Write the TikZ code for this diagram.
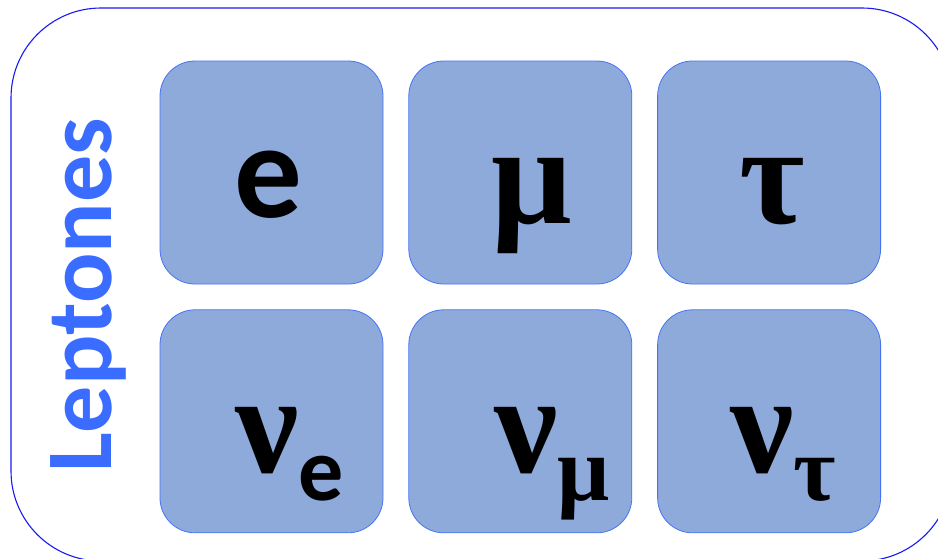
\documentclass[tikz,border=0pt]{standalone}
\usepackage{fontspec}
\setmainfont{Carlito}
\newfontfamily\symserif{Liberation Serif}
\usetikzlibrary{positioning}
\definecolor{frameblue}{RGB}{25,25,240}
\definecolor{cellfill}{RGB}{142,170,219}
\definecolor{celldraw}{RGB}{70,115,245}
\definecolor{titleblue}{RGB}{58,108,255}
\tikzstyle{cell}=[draw=celldraw, fill=cellfill, line width=0.8pt, rounded corners=35pt, minimum size=223pt, inner sep=0pt]
\tikzstyle{sym}=[inner sep=0pt, font=\symserif\bfseries\fontsize{142}{142}\selectfont]
\newcommand\latsub[1]{\raisebox{-28pt}{\normalfont\bfseries\fontsize{90}{90}\selectfont #1}}
\newcommand\grsub[1]{\raisebox{-28pt}{\fontsize{92}{92}\selectfont #1}}

\begin{document}
\begin{tikzpicture}[x=1pt, y=-1pt]
    \useasboundingbox (0,0) rectangle (938,558);
    \clip (0,0) rectangle (938,558);
    % outer frame
    \draw[frameblue, line width=1.1pt, rounded corners=90pt] (11,8) rectangle (952,561);
    \node[titleblue, rotate=90, anchor=base west, inner sep=0pt, font=\bfseries\fontsize{94}{94}\selectfont] (title) at (111,473) {Leptones};
    % cells
    \node[cell] (e) at (271.5,172.5) {};
    \node[cell, right=25pt of e] (mu) {};
    \node[cell, right=25pt of mu] (tau) {};
    \node[cell, below=25pt of e] (nue) {};
    \node[cell, below=25pt of mu] (numu) {};
    \node[cell, below=25pt of tau] (nutau) {};
    % symbols
    \node[inner sep=0pt, anchor=base, font=\bfseries\fontsize{135}{135}\selectfont] (te) at (268,217) {e};
    \node[sym, anchor=base] (tmu) at (532,223) {μ};
    \node[sym, anchor=base] (ttau) at (772,223) {τ};
    \node[sym, anchor=base west] (tnue) at (235,472) {ν\latsub{e}};
    \node[sym, anchor=base west] (tnumu) at (494,472) {ν\grsub{μ}};
    \node[sym, anchor=base west] (tnutau) at (730,472) {ν\grsub{τ}};
\end{tikzpicture}
\end{document}
